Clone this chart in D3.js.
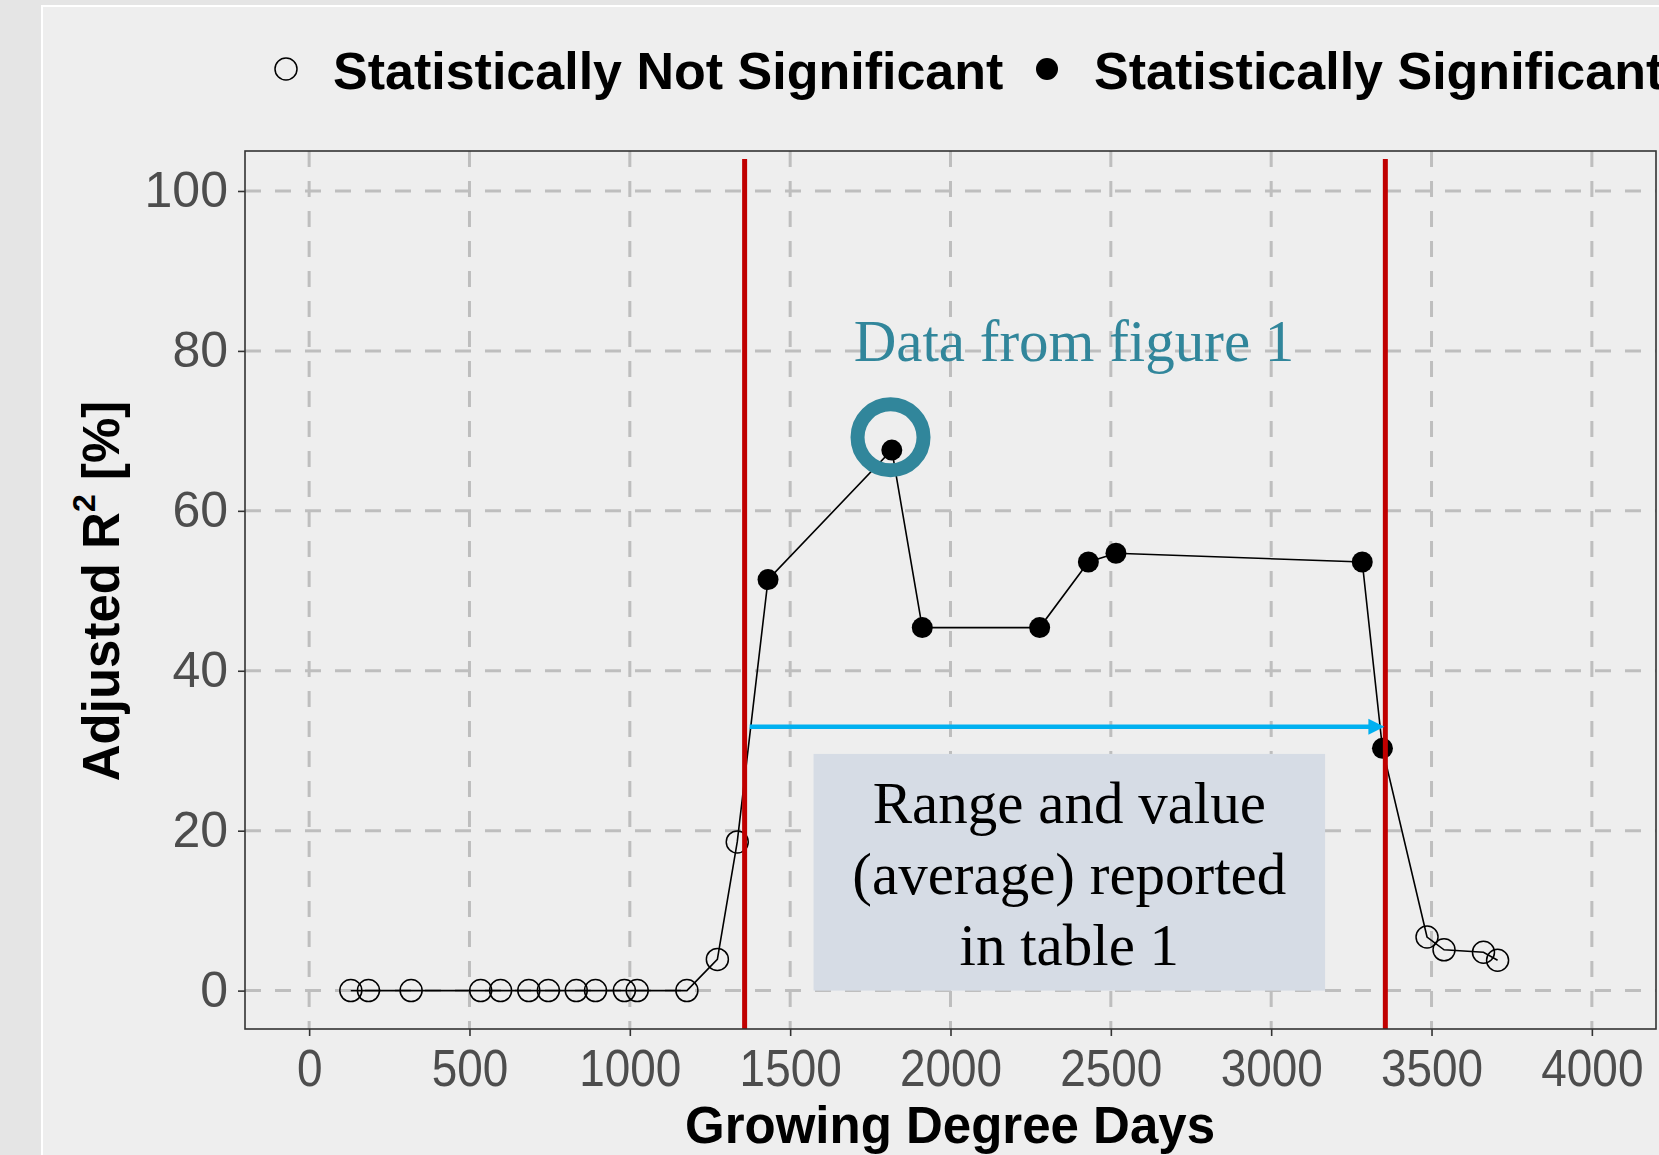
<!DOCTYPE html>
<html>
<head>
<meta charset="utf-8">
<script src="https://cdn.jsdelivr.net/npm/d3@7"></script>
<style>
  html, body { margin: 0; padding: 0; background: #e5e5e5; }
  svg { display: block; }
</style>
</head>
<body>
<div id="chart"></div>
<script>
// growing degree days and adjusted R2 values
const gdd = [130, 185, 318, 535, 597, 685, 746, 833, 893, 983, 1023, 1178,
             1273, 1335, 1431, 1817, 1912, 2278, 2430, 2516, 3284, 3347,
             3486, 3539, 3662, 3706];
const adjR2 = [0, 0, 0, 0, 0, 0, 0, 0, 0, 0, 0, 0,
               3.9, 18.6, 51.4, 67.6, 45.4, 45.4, 53.6, 54.7, 53.6, 30.3,
               6.7, 5.1, 4.8, 3.8];
const significant = [0, 0, 0, 0, 0, 0, 0, 0, 0, 0, 0, 0,
                     0, 0, 1, 1, 1, 1, 1, 1, 1, 1,
                     0, 0, 0, 0];
const xTicks = [0, 500, 1000, 1500, 2000, 2500, 3000, 3500, 4000];
const yTicks = [0, 20, 40, 60, 80, 100];
const legendLabels = ["Statistically Not Significant", "Statistically Significant"];
const rangeBounds = [1358, 3356];   // red vertical lines
const rangeArrowY = 33;
const boxRange = { x0: 1573, x1: 3168, y0: 0, y1: 29.6 };
const highlight = { x: 1813, y: 69.2 };
const boxLines = ["Range and value", "(average) reported", "in table 1"];

const W = 1659, H = 1155;
const panel = { left: 245, right: 1656, top: 151, bottom: 1029 };

const svg = d3.select("#chart").append("svg")
    .attr("width", W)
    .attr("height", H);

// backgrounds
svg.append("rect").attr("width", W).attr("height", H).attr("fill", "#e5e5e5");
svg.append("rect").attr("x", 42).attr("y", 6).attr("width", W - 42).attr("height", H - 6)
    .attr("fill", "#eeeeee");
svg.append("path").attr("d", `M42,${H} V6 H${W}`).attr("fill", "none")
    .attr("stroke", "#ffffff").attr("stroke-width", 2);

const x = d3.scaleLinear().domain([-200, 4200]).range([panel.left, panel.right]);
const y = d3.scaleLinear().domain([-4.8, 105]).range([panel.bottom, panel.top]);

svg.append("clipPath").attr("id", "clip")
  .append("rect")
    .attr("x", panel.left).attr("y", panel.top)
    .attr("width", panel.right - panel.left)
    .attr("height", panel.bottom - panel.top);

const plot = svg.append("g").attr("clip-path", "url(#clip)");

// dashed grid
plot.append("g").selectAll("line")
    .data(xTicks)
    .enter().append("line")
    .attr("x1", d => x(d)).attr("x2", d => x(d))
    .attr("y1", panel.top).attr("y2", panel.bottom)
    .attr("stroke", "#bebebe").attr("stroke-width", 3)
    .attr("stroke-dasharray", "16,14");

plot.append("g").selectAll("line")
    .data(yTicks)
    .enter().append("line")
    .attr("x1", panel.left).attr("x2", panel.right)
    .attr("y1", d => y(d)).attr("y2", d => y(d))
    .attr("stroke", "#bebebe").attr("stroke-width", 3)
    .attr("stroke-dasharray", "16,14");

// annotation box
plot.append("rect")
    .attr("x", x(boxRange.x0))
    .attr("y", y(boxRange.y1))
    .attr("width", x(boxRange.x1) - x(boxRange.x0))
    .attr("height", y(boxRange.y0) - y(boxRange.y1))
    .attr("fill", "#d6dce5");

const boxCx = (x(boxRange.x0) + x(boxRange.x1)) / 2;
svg.append("g").selectAll("text")
    .data(boxLines)
    .enter().append("text")
    .attr("x", boxCx)
    .attr("y", (d, i) => 823 + i * 71)
    .attr("text-anchor", "middle")
    .attr("font-family", "'Liberation Serif', 'Times New Roman', serif")
    .attr("font-size", 59)
    .attr("fill", "#000")
    .text(d => d);

// data line and points
const pts = gdd.map((d, i) => ({ x: d, y: adjR2[i], sig: significant[i] }));

plot.append("path")
    .datum(pts)
    .attr("fill", "none")
    .attr("stroke", "#000")
    .attr("stroke-width", 1.6)
    .attr("d", d3.line().x(d => x(d.x)).y(d => y(d.y)));

plot.append("g").selectAll("circle")
    .data(pts)
    .enter().append("circle")
    .attr("cx", d => x(d.x))
    .attr("cy", d => y(d.y))
    .attr("r", d => d.sig ? 10.5 : 11)
    .attr("fill", d => d.sig ? "#000" : "none")
    .attr("stroke", "#000")
    .attr("stroke-width", d => d.sig ? 0 : 1.5);

// red bounds
plot.append("g").selectAll("line")
    .data(rangeBounds)
    .enter().append("line")
    .attr("x1", d => x(d)).attr("x2", d => x(d))
    .attr("y1", y(104)).attr("y2", panel.bottom)
    .attr("stroke", "#c00000").attr("stroke-width", 5);

// blue arrow
const ax0 = x(rangeBounds[0]) + 5, ax1 = x(rangeBounds[1]) - 1, ay = y(rangeArrowY);
plot.append("line")
    .attr("x1", ax0).attr("x2", ax1 - 12)
    .attr("y1", ay).attr("y2", ay)
    .attr("stroke", "#00b0f0").attr("stroke-width", 4.5);
plot.append("path")
    .attr("d", `M${ax1},${ay} L${ax1 - 16},${ay - 8} L${ax1 - 16},${ay + 8} Z`)
    .attr("fill", "#00b0f0");

// highlight ring
plot.append("circle")
    .attr("cx", x(highlight.x)).attr("cy", y(highlight.y))
    .attr("r", 33)
    .attr("fill", "none")
    .attr("stroke", "#31869b")
    .attr("stroke-width", 14);

svg.append("text")
    .attr("x", 1074).attr("y", 361)
    .attr("text-anchor", "middle")
    .attr("font-family", "'Liberation Serif', 'Times New Roman', serif")
    .attr("font-size", 59)
    .attr("fill", "#31869b")
    .text("Data from figure 1");

// panel border
svg.append("rect")
    .attr("x", panel.left).attr("y", panel.top)
    .attr("width", panel.right - panel.left)
    .attr("height", panel.bottom - panel.top)
    .attr("fill", "none").attr("stroke", "#333").attr("stroke-width", 1.6);

// axes
const xAxis = svg.append("g")
    .attr("transform", `translate(0,${panel.bottom})`)
    .call(d3.axisBottom(x).tickValues(xTicks).tickSize(7).tickPadding(14).tickFormat(d3.format("d")));
xAxis.select(".domain").remove();
xAxis.selectAll("line").attr("stroke", "#333").attr("stroke-width", 1.6);
xAxis.selectAll("text")
    .attr("font-family", "'Liberation Sans', Arial, sans-serif")
    .attr("font-size", 51)
    .attr("transform", "scale(0.9,1)")
    .attr("fill", "#4d4d4d");

const yAxis = svg.append("g")
    .attr("transform", `translate(${panel.left},0)`)
    .call(d3.axisLeft(y).tickValues(yTicks).tickSize(7).tickPadding(10));
yAxis.select(".domain").remove();
yAxis.selectAll("line").attr("stroke", "#333").attr("stroke-width", 1.6);
yAxis.selectAll("text")
    .attr("font-family", "'Liberation Sans', Arial, sans-serif")
    .attr("font-size", 50)
    .attr("fill", "#4d4d4d");

// axis titles
svg.append("text")
    .attr("x", 950).attr("y", 1143)
    .attr("text-anchor", "middle")
    .attr("font-family", "'Liberation Sans', Arial, sans-serif")
    .attr("font-weight", "bold")
    .attr("font-size", 51)
    .attr("fill", "#000")
    .text("Growing Degree Days");

const yTitle = svg.append("text")
    .attr("transform", "translate(119,591) rotate(-90)")
    .attr("text-anchor", "middle")
    .attr("font-family", "'Liberation Sans', Arial, sans-serif")
    .attr("font-weight", "bold")
    .attr("font-size", 51)
    .attr("fill", "#000");
yTitle.append("tspan").text("Adjusted R");
yTitle.append("tspan").attr("font-size", 32).attr("dy", -24).text("2");
yTitle.append("tspan").attr("dy", 24).text(" [%]");

// legend
const legend = svg.append("g");
const legendX = [286, 1047];
legend.selectAll("circle")
    .data(legendLabels)
    .enter().append("circle")
    .attr("cx", (d, i) => legendX[i])
    .attr("cy", 69)
    .attr("r", 11)
    .attr("fill", (d, i) => i ? "#000" : "none")
    .attr("stroke", "#000")
    .attr("stroke-width", (d, i) => i ? 0 : 1.5);
legend.selectAll("text")
    .data(legendLabels)
    .enter().append("text")
    .attr("x", (d, i) => legendX[i] + 47)
    .attr("y", 89)
    .attr("font-family", "'Liberation Sans', Arial, sans-serif")
    .attr("font-weight", "bold")
    .attr("font-size", 52)
    .attr("fill", "#000")
    .text(d => d);
</script>
</body>
</html>
